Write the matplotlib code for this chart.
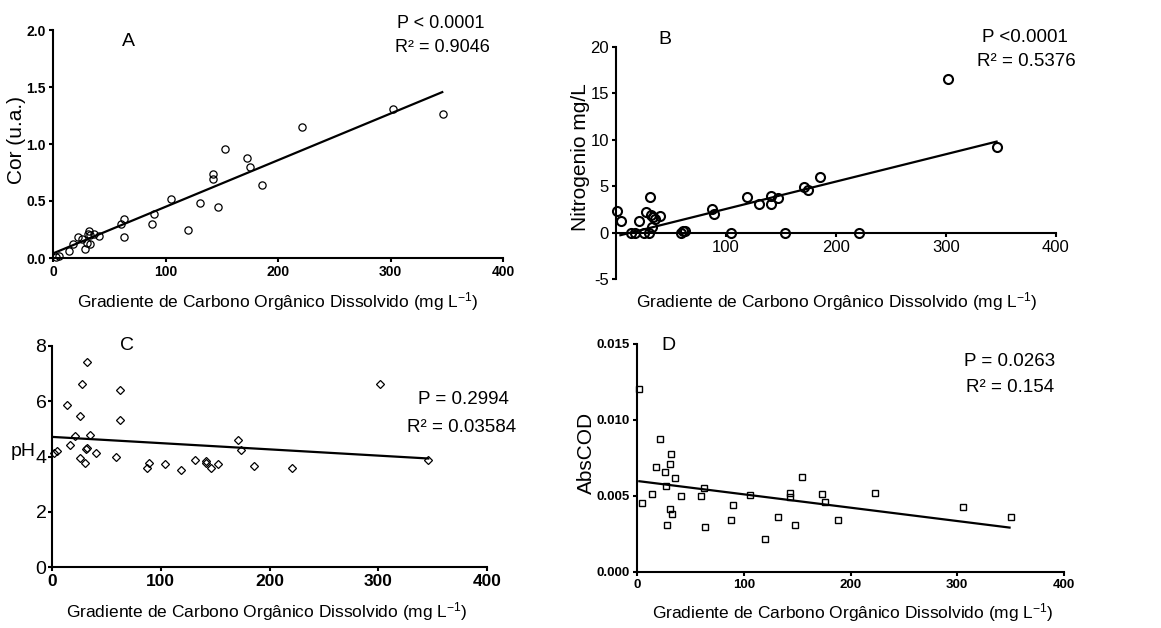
import numpy as np
import matplotlib
matplotlib.use('Agg')
import matplotlib.pyplot as plt

# Data
# Panel A - Cor (u.a.)
a_x = [3, 5.3, 14, 18, 22, 26, 28.5, 30, 32, 31.5, 33, 33, 36.5, 41, 60, 63, 63, 88, 89.6,
       105, 119.6, 131, 142.5, 142.5, 147, 153, 172, 175, 186, 221, 302, 346.6]
a_y = [0.01, 0.015, 0.06, 0.12, 0.18, 0.17, 0.08, 0.13, 0.24, 0.21, 0.20, 0.12, 0.21, 0.19,
       0.30, 0.34, 0.18, 0.30, 0.39, 0.52, 0.25, 0.48, 0.74, 0.69, 0.45, 0.96, 0.88, 0.80,
       0.64, 1.15, 1.31, 1.265]
a_fit = (0.00409, 0.04)      # slope, intercept
a_fit_range = [0, 346]

# Panel B - Nitrogenio mg/L
b_x = [1.2, 4.2, 13.3, 17.6, 21.2, 25.5, 27.3, 29.7, 30.9, 31.5, 32.8, 34, 35.8, 40, 58.8,
       61.3, 63, 87.3, 89.2, 104.6, 118.9, 130.4, 141.3, 141.3, 147.1, 153.4, 171.3, 174.4,
       185.6, 220.8, 301.4, 346]
b_y = [2.37, 1.29, 0, 0, 1.29, 0, 2.19, 0, 3.83, 1.9, 0.65, 1.72, 1.47, 1.79, 0, 0.2, 0.14,
       2.5, 2.04, 0, 3.8, 3.05, 3.98, 3.05, 3.73, 0, 4.87, 4.62, 5.99, 0, 16.5, 9.25]
b_fit = (0.0295, -0.4)
b_fit_range = [4, 346]

# Panel C - pH
c_x = [1.5, 4.6, 13.8, 16.9, 21.1, 26, 27.6, 26, 30, 31, 32.2, 31.9, 35.2, 40.5, 59.2, 62.2,
       62.8, 87.4, 89.2, 104.2, 118.9, 131.9, 141.6, 141.9, 146.5, 152.9, 171.3, 174.1,
       185.7, 220.4, 301.3, 346]
c_y = [4.14, 4.19, 5.87, 4.42, 4.75, 5.48, 6.61, 3.96, 3.75, 4.27, 4.30, 7.42, 4.77, 4.11,
       3.99, 5.31, 6.41, 3.60, 3.78, 3.73, 3.51, 3.89, 3.82, 3.78, 3.57, 3.73, 4.58, 4.23,
       3.64, 3.59, 6.63, 3.87]
c_fit = (-0.00226, 4.71)
c_fit_range = [1, 346]

# Panel D - AbsCOD
d_x = [2.2, 5, 14, 17.8, 21.8, 26.5, 27.1, 28.1, 30.9, 30.6, 32.1, 32.4, 35.9, 40.8, 59.9,
       63, 63.6, 88.2, 90.1, 105.7, 120.3, 132.2, 143.7, 143.7, 148.4, 154.9, 173.7, 176.5,
       188, 223.2, 305.2, 350.1]
d_y = [0.01204, 0.00457, 0.00512, 0.00692, 0.00874, 0.00659, 0.00569, 0.0031, 0.00712,
       0.00413, 0.00777, 0.00382, 0.00617, 0.00499, 0.00501, 0.00553, 0.00294, 0.00343,
       0.00439, 0.00505, 0.00215, 0.00365, 0.0052, 0.00492, 0.0031, 0.00628, 0.00512,
       0.00461, 0.00343, 0.0052, 0.0043, 0.00362]
d_fit = (-8.79e-6, 0.00599)
d_fit_range = [2.2, 349]

XLABEL = 'Gradiente de Carbono Orgânico Dissolvido (mg L$^{-1}$)'

plt.rcParams['font.family'] = ['Liberation Sans', 'DejaVu Sans']
plt.rcParams['mathtext.fontset'] = 'custom'
plt.rcParams['mathtext.rm'] = 'Liberation Sans'
plt.rcParams['mathtext.it'] = 'Liberation Sans'

W, H = 1161, 628
fig = plt.figure(figsize=(W / 100, H / 100), dpi=100)

ANN = 13.5    # size of P / R² notes
XL = 12.5     # x label size


def box(x0, y0, x1, y1):
    # pixel box -> figure fraction
    return [x0 / W, 1 - y1 / H, (x1 - x0) / W, (y1 - y0) / H]


def txt(px, py, s, **kw):
    fig.text(px / W, 1 - py / H, s, **kw)


def style(ax, lw=1.5):
    for s in ['top', 'right']:
        ax.spines[s].set_visible(False)
    for s in ['left', 'bottom']:
        ax.spines[s].set_linewidth(lw)
    ax.tick_params(direction='out', length=3, width=1.5)


def fit_line(ax, fit, rng):
    xs = np.array(rng)
    ax.plot(xs, fit[0] * xs + fit[1], color='black', lw=1.6, zorder=2)


# ---- Panel A
ax = fig.add_axes(box(53, 30, 503, 258))
style(ax)
ax.plot(a_x, a_y, 'o', mfc='none', mec='black', ms=5.2, mew=0.9, zorder=3, clip_on=False)
fit_line(ax, a_fit, a_fit_range)
ax.set_xlim(0, 400)
ax.set_ylim(0, 2.0)
ax.set_xticks([0, 100, 200, 300, 400])
ax.set_yticks([0, 0.5, 1.0, 1.5, 2.0])
ax.set_yticklabels(['0.0', '0.5', '1.0', '1.5', '2.0'])
for lab in ax.get_xticklabels() + ax.get_yticklabels():
    lab.set_fontweight('bold')
    lab.set_fontsize(10)
ax.tick_params(pad=2)
txt(128, 41, 'A', fontsize=14, ha='center', va='center')
txt(441, 23, 'P < 0.0001', fontsize=13, ha='center', va='center')
txt(442, 47, 'R² = 0.9046', fontsize=13, ha='center', va='center')
txt(278, 302, XLABEL, fontsize=XL, ha='center', va='center')
txt(17, 140, 'Cor (u.a.)', fontsize=15, ha='center', va='center', rotation=90)

# ---- Panel B
ax = fig.add_axes(box(616, 47, 1056, 279))
style(ax)
ax.spines['bottom'].set_position(('data', 0))
ax.plot(b_x, b_y, 'o', mfc='none', mec='black', ms=6.5, mew=1.5, zorder=3, clip_on=False)
fit_line(ax, b_fit, b_fit_range)
ax.set_xlim(0, 400)
ax.set_ylim(-5, 20)
ax.set_xticks([100, 200, 300, 400])
ax.set_yticks([-5, 0, 5, 10, 15, 20])
ax.set_yticklabels(['-5', '0', '5', '10', '15', '20'])
ax.tick_params(labelsize=12, pad=2)
txt(665, 39, 'B', fontsize=14, ha='center', va='center')
txt(1025, 38, 'P <0.0001', fontsize=ANN, ha='center', va='center')
txt(1026, 62, 'R² = 0.5376', fontsize=ANN, ha='center', va='center')
txt(837, 302, XLABEL, fontsize=XL, ha='center', va='center')
txt(581, 157, 'Nitrogenio mg/L', fontsize=15, ha='center', va='center', rotation=90)

# ---- Panel C
ax = fig.add_axes(box(52, 346, 487, 567))
style(ax)
ax.plot(c_x, c_y, 'D', mfc='none', mec='black', ms=3.6, mew=0.9, zorder=3, clip_on=False)
fit_line(ax, c_fit, c_fit_range)
ax.set_xlim(0, 400)
ax.set_ylim(0, 8)
ax.set_xticks([0, 100, 200, 300, 400])
ax.set_yticks([0, 2, 4, 6, 8])
ax.tick_params(axis='y', labelsize=14, pad=1)
ax.tick_params(axis='x', pad=2)
for lab in ax.get_xticklabels():
    lab.set_fontweight('bold')
    lab.set_fontsize(12.5)
txt(127, 345, 'C', fontsize=14, ha='center', va='center')
txt(463, 400, 'P = 0.2994', fontsize=ANN, ha='center', va='center')
txt(462, 428, 'R² = 0.03584', fontsize=ANN, ha='center', va='center')
txt(267, 612, XLABEL, fontsize=XL, ha='center', va='center')
txt(23, 452, 'pH', fontsize=14, ha='center', va='center')

# ---- Panel D
ax = fig.add_axes(box(637, 344, 1064, 572))
style(ax)
ax.plot(d_x, d_y, 's', mfc='none', mec='black', ms=5, mew=1.0, zorder=3, clip_on=False)
fit_line(ax, d_fit, d_fit_range)
ax.set_xlim(0, 400)
ax.set_ylim(0, 0.015)
ax.set_xticks([0, 100, 200, 300, 400])
ax.set_yticks([0, 0.005, 0.010, 0.015])
ax.set_yticklabels(['0.000', '0.005', '0.010', '0.015'])
for lab in ax.get_xticklabels() + ax.get_yticklabels():
    lab.set_fontweight('bold')
    lab.set_fontsize(9.5)
ax.tick_params(pad=2)
txt(668, 345, 'D', fontsize=14, ha='center', va='center')
txt(1010, 362, 'P = 0.0263', fontsize=ANN, ha='center', va='center')
txt(1010, 387, 'R² = 0.154', fontsize=ANN, ha='center', va='center')
txt(853, 613, XLABEL, fontsize=XL, ha='center', va='center')
txt(586, 453, 'AbsCOD', fontsize=15, ha='center', va='center', rotation=90)

fig.savefig('out.png', dpi=100)
